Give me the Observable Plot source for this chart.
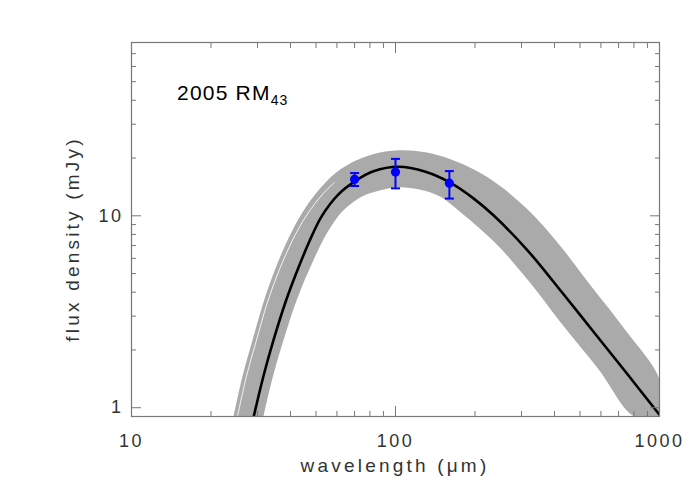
<!DOCTYPE html>
<html><head><meta charset="utf-8">
<script src="https://cdn.jsdelivr.net/npm/d3@7"></script>
<script src="https://cdn.jsdelivr.net/npm/@observablehq/plot@0.6"></script>
<style>
body{margin:0;background:#fff}
#chart{width:700px;height:500px}
svg text{font-family:"Liberation Sans",Helvetica,Arial,sans-serif;}
</style>
</head><body><div id="chart"></div>
<script>
// best-fit thermal model curve (wavelength in micron, flux in mJy)
const modelWavelength = [29.06, 31.6, 34.5, 38.3, 42.5, 47.2, 52.5, 60.8, 70.6, 82.5, 102.7, 129.9, 161.6, 197.4, 235.0, 316.2, 433.0, 562.3, 756.5, 982.7, 1000];
const modelFlux = [0.903, 1.459, 2.247, 3.544, 5.20, 7.37, 9.94, 12.94, 15.21, 17.05, 18.0, 16.95, 14.85, 12.33, 10.06, 6.61, 3.90, 2.488, 1.494, 0.947, 0.919];
// envelope of the model ensemble: upper/left edge and lower/right edge
const bandUpperWavelength = [24.35, 26.33, 28.73, 31.62, 35.12, 39.33, 44.44, 51.09, 59.76, 71.17, 86.24, 104.4, 129.9, 161.6, 200.9, 249.9, 324.7, 421.7, 547.7, 743.3, 1000];
const bandUpperFlux = [0.9, 1.459, 2.247, 3.544, 5.33, 7.64, 10.43, 13.58, 16.85, 19.46, 21.29, 21.94, 21.42, 19.70, 17.26, 14.24, 10.43, 6.94, 4.345, 2.533, 1.40];
const bandLowerWavelength = [31.62, 34.20, 37.65, 42.5, 48.49, 55.26, 63.53, 74.99, 87.76, 102.7, 124.4, 148.1, 176.3, 209.9, 249.9, 324.7, 421.7, 587.4, 803.9, 1000];
const bandLowerFlux = [0.9, 1.424, 2.247, 3.718, 5.73, 8.21, 10.68, 12.64, 13.58, 14.08, 13.66, 12.56, 10.43, 8.51, 6.77, 4.45, 2.788, 1.587, 0.9, 0.9];
// thin light gap visible inside the envelope on the rising side
const gapWavelength = [25.2, 27.26, 29.75, 32.74, 36.36, 40.72, 46.03, 52.9, 58.74];
const gapFlux = [0.9, 1.459, 2.247, 3.544, 5.265, 7.455, 10.06, 12.94, 14.94];
// Herschel PACS photometry
const obsWavelength = [70, 100, 160];
const obsFlux = [15.5, 16.9, 14.8];
const obsLow = [14.3, 13.9, 12.3];
const obsHigh = [16.7, 19.8, 17.1];
// ticks
const xMajor = [10, 100, 1000];
const xMinor = [20, 30, 40, 50, 60, 70, 80, 90, 200, 300, 400, 500, 600, 700, 800, 900];
const yMajor = [1, 10];
const yMinor = [2, 3, 4, 5, 6, 7, 8, 9, 20, 30, 40, 50, 60, 70];
const xLabel = "wavelength (\u03bcm)";
const yLabel = "flux density (mJy)";
const objName = "2005 RM";
const objSub = "43";

const model = modelWavelength.map((w, i) => ({w, f: modelFlux[i]}));
const band = [
  ...bandUpperWavelength.map((w, i) => ({w, f: bandUpperFlux[i]})),
  ...bandLowerWavelength.map((w, i) => ({w, f: bandLowerFlux[i]})).reverse()
];
const gap = gapWavelength.map((w, i) => ({w, f: gapFlux[i]}));
const obs = obsWavelength.map((w, i) => ({w, f: obsFlux[i], lo: obsLow[i], hi: obsHigh[i]}));

const cap = {draw(ctx, size) { const r = Math.sqrt(size / Math.PI); ctx.moveTo(-r, 0); ctx.lineTo(r, 0); }};
const tc = "#777";
const lc = "#333";
const noText = () => "";

const svg = Plot.plot({
  width: 700, height: 500,
  marginLeft: 131, marginRight: 41, marginTop: 42, marginBottom: 84,
  style: {background: "#fff", color: lc},
  x: {type: "log", domain: [10, 1000]},
  y: {type: "log", domain: [0.9, 80]},
  marks: [
    Plot.line(band, {x: "w", y: "f", fill: "#aaaaaa", stroke: "none", curve: "catmull-rom", clip: true}),
    Plot.line(gap, {x: "w", y: "f", stroke: "#fff", strokeOpacity: 0.85, strokeWidth: 1, curve: "catmull-rom", clip: true}),
    Plot.line(model, {x: "w", y: "f", stroke: "#000", strokeWidth: 2.6, curve: "catmull-rom", clip: true}),
    Plot.ruleX(obs, {x: "w", y1: "lo", y2: "hi", stroke: "#0000ff", strokeWidth: 2}),
    Plot.dot(obs, {x: "w", y: "lo", symbol: cap, r: 4.5, stroke: "#0000ff", strokeWidth: 2}),
    Plot.dot(obs, {x: "w", y: "hi", symbol: cap, r: 4.5, stroke: "#0000ff", strokeWidth: 2}),
    Plot.dot(obs, {x: "w", y: "f", r: 4.6, fill: "#0000ff", stroke: "none"}),
    // inward ticks on all four sides
    Plot.axisX(xMajor, {anchor: "bottom", tickSize: -10, tickFormat: noText, label: null, stroke: tc}),
    Plot.axisX(xMinor, {anchor: "bottom", tickSize: -5, tickFormat: noText, label: null, stroke: tc}),
    Plot.axisX(xMajor, {anchor: "top", tickSize: -10, tickFormat: noText, label: null, stroke: tc}),
    Plot.axisX(xMinor, {anchor: "top", tickSize: -5, tickFormat: noText, label: null, stroke: tc}),
    Plot.axisY(yMajor, {anchor: "left", tickSize: -10, tickFormat: noText, label: null, stroke: tc}),
    Plot.axisY(yMinor, {anchor: "left", tickSize: -5, tickFormat: noText, label: null, stroke: tc}),
    Plot.axisY(yMajor, {anchor: "right", tickSize: -10, tickFormat: noText, label: null, stroke: tc}),
    Plot.axisY(yMinor, {anchor: "right", tickSize: -5, tickFormat: noText, label: null, stroke: tc}),
    // tick labels
    Plot.axisX(xMajor, {anchor: "bottom", tickSize: 0, tickPadding: 18, tickFormat: d => String(d), label: null, fontSize: 18, fill: lc}),
    Plot.axisY(yMajor, {anchor: "left", tickSize: 0, tickPadding: 8, tickFormat: d => String(d), label: null, fontSize: 18, fill: lc}),
    Plot.frame({stroke: tc, strokeWidth: 1.2})
  ]
});

const s = d3.select(svg);
s.selectAll("g[aria-label='x-axis tick label'] text, g[aria-label='y-axis tick label'] text").style("letter-spacing", "2.5px");
s.append("text")
  .attr("x", 395).attr("y", 472).attr("text-anchor", "middle")
  .attr("font-size", 19).attr("fill", lc).style("letter-spacing", "3.2px")
  .text(xLabel);
s.append("text")
  .attr("transform", "translate(79,239) rotate(-90)").attr("text-anchor", "middle")
  .attr("font-size", 19).attr("fill", lc).style("letter-spacing", "3.2px")
  .text(yLabel);
const t = s.append("text").attr("x", 177).attr("y", 100).attr("text-anchor", "start")
  .attr("font-size", 21).attr("fill", "#000").style("letter-spacing", "1.2px");
t.append("tspan").text(objName);
t.append("tspan").attr("font-size", 14).attr("dy", 5).text(objSub);

document.getElementById("chart").appendChild(svg);
</script>
</body></html>
